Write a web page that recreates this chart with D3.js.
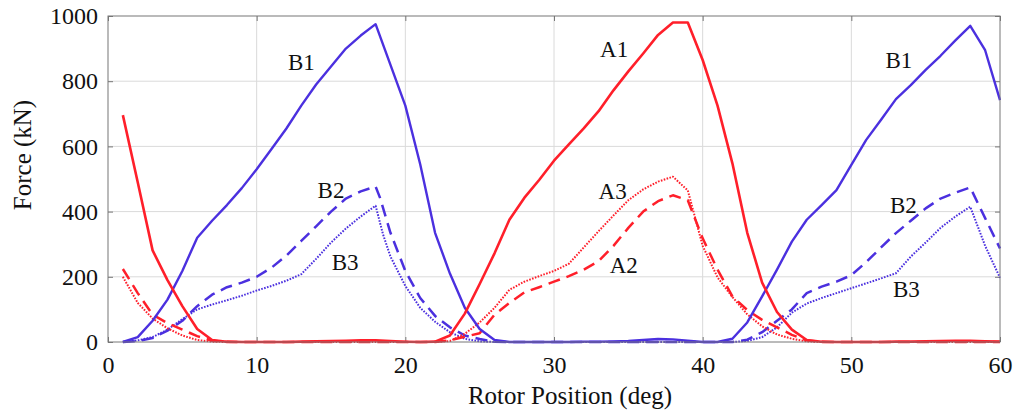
<!DOCTYPE html>
<html>
    <head>
        <meta charset="utf-8">
        <script src="https://cdn.jsdelivr.net/npm/d3@7/dist/d3.min.js"></script>
    </head>
    <style>
        html, body { margin: 0; padding: 0; background: #fff; }
        svg { display: block; }
        text { font-family: 'Liberation Serif', 'Times New Roman', serif; fill: #111; }
    </style>
    <body>
        <div id="canvas"></div>
        <script>
            // rotor position (deg) vs force (kN)
            var A1 = [[1,696],[2,490],[3,281],[4,190],[5,110],[6,40],[7,6],[8,1],[9,0],[10,0],[11,0],[12,0],[13,1],
                [14,2],[15,3],[16,4],[17,5],[18,5],[19,3],[20,1],[21,0],[22,1],[23,20],[24,87],[25,178],[26,272],
                [27,375],[28,442],[29,497],[30,556],[31,606],[32,655],[33,708],[34,772],[35,830],[36,885],[37,942],
                [38,980],[39,980],[40,865],[41,725],[42,548],[43,335],[44,182],[45,92],[46,38],[47,6],[48,1],
                [49,0],[50,0],[51,0],[52,0],[53,1],[54,1],[55,2],[56,3],[57,4],[58,4],[59,2],[60,1]];
            var A2 = [[1,224],[2,150],[3,84],[4,58],[5,38],[6,18],[7,4],[8,0],[22,0],[23,5],[24,16],[25,27],
                [26,84],[27,120],[28,152],[29,168],[30,185],[31,202],[32,222],[33,248],[34,295],[35,350],[36,400],
                [37,432],[38,450],[39,435],[40,318],[41,222],[42,140],[43,98],[44,68],[45,45],[46,22],[47,5],[48,0],[60,0]];
            var A3 = [[1,200],[2,120],[3,72],[4,42],[5,20],[6,6],[7,1],[8,0],[22,0],[23,3],[24,25],[25,60],
                [26,105],[27,160],[28,185],[29,202],[30,218],[31,240],[32,290],[33,340],[34,388],[35,435],[36,468],
                [37,492],[38,507],[39,465],[40,295],[41,198],[42,138],[43,85],[44,48],[45,23],[46,10],[47,2],[48,0],[60,0]];
            var B1 = [[1,0],[2,15],[3,65],[4,130],[5,218],[6,320],[7,372],[8,420],[9,472],[10,530],[11,592],
                [12,655],[13,725],[14,790],[15,845],[16,900],[17,940],[18,975],[19,850],[20,725],[21,545],[22,335],
                [23,210],[24,105],[25,40],[26,6],[27,0],[28,0],[29,0],[30,0],[31,0],[32,1],[33,1],[34,2],[35,3],
                [36,6],[37,9],[38,8],[39,4],[40,0],[41,0],[42,10],[43,60],[44,140],[45,222],[46,308],[47,375],
                [48,420],[49,466],[50,543],[51,620],[52,682],[53,745],[54,788],[55,835],[56,878],[57,925],[58,970],
                [59,895],[60,742]];
            var B2 = [[1,0],[2,3],[3,12],[4,35],[5,65],[6,110],[7,145],[8,168],[9,182],[10,200],[11,228],
                [12,265],[13,310],[14,355],[15,400],[16,440],[17,462],[18,477],[18.3,442],[19,335],[20,218],
                [21,135],[22,80],[23,45],[24,20],[25,9],[26,1],[27,0],[42,0],[43,7],[44,30],[45,65],[46,100],
                [47,150],[48,170],[49,185],[50,205],[51,245],[52,290],[53,334],[54,372],[55,410],[56,440],
                [57,458],[58,474],[59,380],[60,287]];
            var B3 = [[1,0],[2,5],[3,15],[4,38],[5,70],[6,100],[7,115],[8,128],[9,142],[10,158],[11,172],
                [12,188],[13,208],[14,255],[15,305],[16,348],[17,385],[18,418],[18.5,330],[19,262],[20,172],
                [21,105],[22,62],[23,30],[24,10],[25,2],[26,0],[42,0],[43,3],[44,15],[45,45],[46,90],[47,118],
                [48,135],[49,150],[50,165],[51,180],[52,195],[53,211],[54,262],[55,305],[56,350],[57,385],
                [58,415],[59,295],[60,197]];

            var xTicks = [0, 10, 20, 30, 40, 50, 60];
            var yTicks = [0, 200, 400, 600, 800, 1000];

            // curve labels: [text, deg, kN] at text baseline start
            var labels = [['B1',12.1,834],['B2',14.1,442],['B3',15.05,221],['A1',33.1,874],['A3',33.0,439],
                ['A2',33.75,212],['B1',52.3,840],['B2',52.6,396],['B3',52.8,139]];

            const w = 1013;
            const h = 416;
            const m = {left: 108, right: 13, top: 16, bottom: 74};
            const blue = '#4b30df';
            const red = '#ff1f2a';
            const serif = "'Liberation Serif', 'Times New Roman', serif";

            const svg = d3.select('#canvas')
                .append('svg')
                .attr('width', w)
                .attr('height', h);

            const x = d3.scaleLinear().domain([0, 60]).range([m.left, w - m.right]);
            const y = d3.scaleLinear().domain([0, 1000]).range([h - m.bottom, m.top]);

            // grid
            svg.append('g').selectAll('line')
                .data(xTicks.slice(1, -1))
                .enter()
                .append('line')
                .attr('x1', d => x(d)).attr('x2', d => x(d))
                .attr('y1', y(0)).attr('y2', y(1000))
                .attr('stroke', '#dadada');
            svg.append('g').selectAll('line')
                .data(yTicks.slice(1, -1))
                .enter()
                .append('line')
                .attr('x1', x(0)).attr('x2', x(60))
                .attr('y1', d => y(d)).attr('y2', d => y(d))
                .attr('stroke', '#dadada');

            // axes with ticks inside the box
            const tidy = g => {
                g.attr('font-family', serif).attr('font-size', 24);
                g.select('.domain').remove();
                g.selectAll('line').attr('stroke', '#777');
                g.selectAll('text')
                    .attr('fill', '#111')
                    .style('font-family', serif)
                    .style('font-size', '24px');
            };
            svg.append('g')
                .attr('transform', `translate(0,${y(0)})`)
                .call(d3.axisBottom(x).tickValues(xTicks).tickSize(-5).tickPadding(14).tickFormat(d3.format('d')))
                .call(tidy);
            svg.append('g')
                .attr('transform', `translate(${x(0)},0)`)
                .call(d3.axisLeft(y).tickValues(yTicks).tickSize(-5).tickPadding(10).tickFormat(d3.format('d')))
                .call(tidy);
            svg.append('g')
                .attr('transform', `translate(${x(60)},0)`)
                .call(d3.axisRight(y).tickValues(yTicks).tickSize(-5).tickFormat(''))
                .call(tidy);
            svg.append('g')
                .attr('transform', `translate(0,${y(1000)})`)
                .call(d3.axisTop(x).tickValues(xTicks).tickSize(-5).tickFormat(''))
                .call(tidy);

            // curves
            var series = [
                {data: B3, color: blue, width: 2, dash: '1.6,1.4'},
                {data: B2, color: blue, width: 2.5, dash: '12,7'},
                {data: A3, color: red, width: 2, dash: '1.6,1.4'},
                {data: A2, color: red, width: 2.5, dash: '12,7'},
                {data: B1, color: blue, width: 2.4, dash: null},
                {data: A1, color: red, width: 2.6, dash: null}
            ];
            const line = d3.line().x(d => x(d[0])).y(d => y(d[1]));
            svg.append('g').selectAll('path')
                .data(series)
                .enter()
                .append('path')
                .attr('d', d => line(d.data))
                .attr('fill', 'none')
                .attr('stroke', d => d.color)
                .attr('stroke-width', d => d.width)
                .attr('stroke-dasharray', d => d.dash)
                .attr('stroke-linejoin', 'round');

            // frame
            svg.append('rect')
                .attr('x', x(0)).attr('y', y(1000))
                .attr('width', x(60) - x(0)).attr('height', y(0) - y(1000))
                .attr('fill', 'none')
                .attr('stroke', '#777');

            svg.selectAll('text.lab')
                .data(labels)
                .enter()
                .append('text')
                .attr('class', 'lab')
                .attr('x', d => x(d[1]))
                .attr('y', d => y(d[2]))
                .style('font-size', '23px')
                .text(d => d[0]);

            // axis titles
            svg.append('text')
                .attr('x', 570).attr('y', 404)
                .attr('text-anchor', 'middle')
                .style('font-size', '25px')
                .text('Rotor Position (deg)');
            svg.append('text')
                .attr('transform', 'translate(31,155) rotate(-90)')
                .attr('text-anchor', 'middle')
                .style('font-size', '25px')
                .text('Force (kN)');
        </script>
    </body>
</html>
